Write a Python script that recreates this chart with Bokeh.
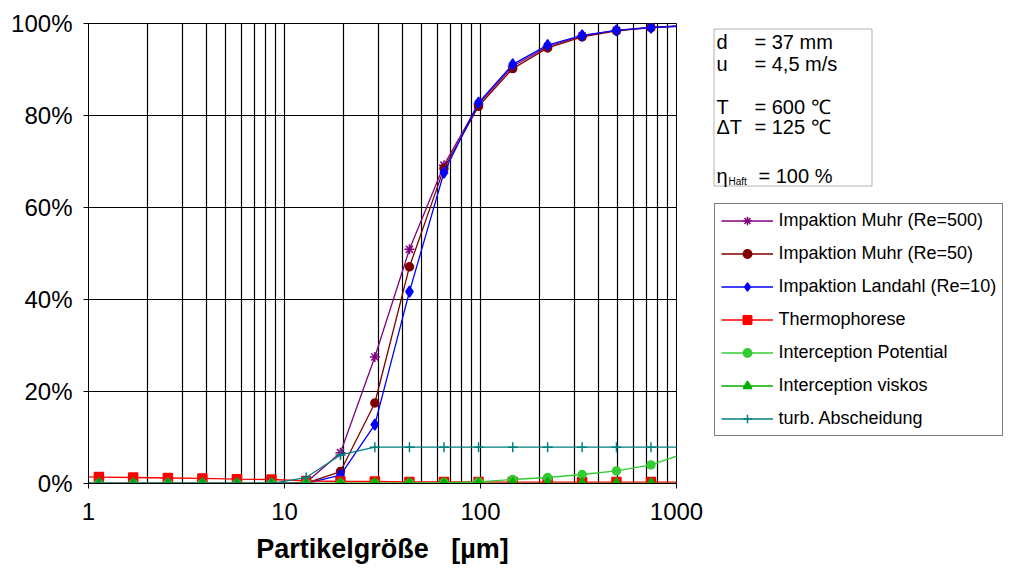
from bokeh.plotting import figure
from bokeh.layouts import row
from bokeh.models import Range1d, FixedTicker, Legend, LegendItem, Label, BoxAnnotation
from bokeh.embed import file_html
from bokeh.resources import INLINE

# ---------------- data ----------------
size_um = [0.753, 1.13, 1.69, 2.54, 3.81, 5.72, 8.58, 12.9, 19.3, 28.9,
           43.4, 65.1, 97.7, 146, 220, 330, 494, 741, 1112]
muhr_500 = [0, 0, 0, 0, 0, 0, 0, 0.2, 6.7, 27.5, 50.9, 69.2, 82.5, 90.7, 95.0, 97.3, 98.5, 99.2, 99.5]
muhr_50 = [0, 0, 0, 0, 0, 0, 0, 0.1, 2.6, 17.5, 47.1, 68.5, 82.0, 90.2, 94.7, 97.1, 98.4, 99.1, 99.5]
landahl_10 = [0, 0, 0, 0, 0, 0, 0, 0, 1.8, 12.8, 41.7, 67.6, 82.8, 91.1, 95.3, 97.4, 98.5, 99.1, 99.5]
thermophorese = [1.5, 1.4, 1.3, 1.2, 1.1, 0.93, 0.87, 0.57, 0.43, 0.43, 0.35, 0.35, 0.35, 0.3, 0.3, 0.3, 0.3, 0.3, 0.3]
interc_potential = [0, 0, 0, 0, 0, 0, 0, 0, 0, 0.05, 0.1, 0.2, 0.35, 0.87, 1.3, 1.96, 2.74, 4.04, 6.6]
interc_viskos = [0, 0, 0, 0, 0, 0, 0, 0, 0, 0, 0, 0, 0, 0, 0, 0, 0, 0, 0]
turb_abscheidung = [0, 0, 0, 0, 0, 0, 0.05, 1.3, 6.2, 7.9, 7.9, 7.9, 7.9, 7.9, 7.9, 7.9, 7.9, 7.9, 7.9]

series_names = ["Impaktion Muhr (Re=500)", "Impaktion Muhr (Re=50)", "Impaktion Landahl (Re=10)",
                "Thermophorese", "Interception Potential", "Interception viskos", "turb. Abscheidung"]
x_major = [1, 10, 100, 1000]
x_tick_labels = ["1", "10", "100", "1000"]
x_minor = [2, 3, 4, 5, 6, 7, 8, 9, 20, 30, 40, 50, 60, 70, 80, 90,
           200, 300, 400, 500, 600, 700, 800, 900]
y_major = [0, 20, 40, 60, 80, 100]
y_tick_labels = ["0%", "20%", "40%", "60%", "80%", "100%"]

info_left = ["d", "u", "T", "\u0394T", "\u03b7"]
info_right = ["= 37 mm", "= 4,5 m/s", "= 600  \u2103", "= 125  \u2103", "= 100 %"]
info_sub = "Haft"

FONT = "Liberation Sans"
H = 570
FRAME_BOTTOM = 483  # page y of the frame bottom (shared by both plots in the row)

p = figure(width=710, height=H, x_axis_type="log",
           x_range=Range1d(1, 1000), y_range=Range1d(0, 100),
           output_backend="svg", toolbar_location=None,
           min_border_left=88, min_border_right=34, min_border_top=23, min_border_bottom=H - FRAME_BOTTOM,
           background_fill_color="white", border_fill_color="white")
p.outline_line_color = "black"
p.outline_line_width = 1

# axes
p.xaxis.ticker = FixedTicker(ticks=x_major, minor_ticks=x_minor)
p.xaxis.major_label_overrides = {v: t for v, t in zip(x_major, x_tick_labels)}
p.yaxis.ticker = FixedTicker(ticks=y_major)
p.yaxis.major_label_overrides = {v: t for v, t in zip(y_major, y_tick_labels)}
for ax in (p.xaxis[0], p.yaxis[0]):
    ax.axis_line_color = "black"
    ax.major_tick_line_color = "black"
    ax.major_tick_out = 5
    ax.major_tick_in = 0
    ax.minor_tick_line_color = None
    ax.major_label_text_font = FONT
    ax.major_label_text_font_size = "24px"
    ax.major_label_text_color = "black"
p.xaxis.major_label_standoff = 14
p.yaxis.major_label_standoff = 11
p.xaxis.axis_label = "Partikelgr\u00f6\u00dfe\u00a0\u00a0\u00a0[\u00b5m]"
p.xaxis.axis_label_text_font = FONT
p.xaxis.axis_label_text_font_size = "27px"
p.xaxis.axis_label_text_font_style = "bold"
p.xaxis.axis_label_text_color = "black"
p.xaxis.axis_label_standoff = 11

# grids
p.xgrid.grid_line_color = "black"
p.xgrid.grid_line_width = 1.2
p.xgrid.minor_grid_line_color = "black"
p.xgrid.minor_grid_line_width = 1.2
p.ygrid.grid_line_color = "black"
p.ygrid.grid_line_width = 1.2

styles = [
    ("#800080", "asterisk", 10),
    ("#800000", "circle", 8),
    ("#0000FF", "diamond", 11),
    ("#FF0000", "square", 9),
    ("#33CC33", "circle", 8),
    ("#00B000", "triangle", 10),
    ("#008080", "cross", 10),
]
data_series = [muhr_500, muhr_50, landahl_10, thermophorese, interc_potential, interc_viskos, turb_abscheidung]

for ys, (col, mk, sz) in zip(data_series, styles):
    p.line(size_um, ys, line_color=col, line_width=1.3)
    p.scatter(size_um, ys, marker=mk, size=sz, fill_color=col, line_color=col, line_width=1.5)

# ---------------- side panel with legend and info box ----------------
# its ranges lie outside all data, so its renderers only serve the legend glyphs
W2 = 1014 - 710
p2 = figure(width=W2, height=H, x_range=Range1d(5000, 6000), y_range=Range1d(500, 600),
            output_backend="svg", toolbar_location=None,
            min_border_left=0, min_border_right=0, min_border_top=23, min_border_bottom=H - FRAME_BOTTOM,
            background_fill_color="white", border_fill_color="white")
p2.axis.visible = False
p2.grid.visible = False
p2.outline_line_color = None

items = []
for name, ys, (col, mk, sz) in zip(series_names, data_series, styles):
    ln = p2.line(size_um, ys, line_color=col, line_width=1.3)
    sc = p2.scatter(size_um, ys, marker=mk, size=sz, fill_color=col, line_color=col, line_width=1.5)
    items.append(LegendItem(label=name, renderers=[ln, sc]))

LEG_H = 231
legend = Legend(items=items, location=(3.5, FRAME_BOTTOM - (205 + LEG_H) + 0.5))
legend.label_text_font = FONT
legend.label_text_font_size = "18px"
legend.label_text_color = "black"
legend.glyph_width = 52
legend.glyph_height = 21
legend.label_height = 21
legend.label_standoff = 6
legend.spacing = 12
legend.padding = 6
legend.margin = 0
legend.border_line_color = "black"
legend.border_line_width = 1
legend.background_fill_color = "white"
legend.background_fill_alpha = 1
p2.add_layout(legend, "center")

box = BoxAnnotation(left=3.5, right=161.5, top=FRAME_BOTTOM - 28.5, bottom=FRAME_BOTTOM - 185.5,
                    left_units="screen", right_units="screen",
                    top_units="screen", bottom_units="screen",
                    fill_color="white", fill_alpha=1, line_color="black", line_width=1)
p2.add_layout(box)

ys_info = [FRAME_BOTTOM - 41, FRAME_BOTTOM - 63, FRAME_BOTTOM - 106, FRAME_BOTTOM - 126, FRAME_BOTTOM - 175]
for lt, rt, yy in zip(info_left, info_right, ys_info):
    p2.add_layout(Label(x=6, y=yy, x_units="screen", y_units="screen", text=lt,
                        text_font=FONT, text_font_size="20px", text_baseline="middle",
                        text_color="black"))
    p2.add_layout(Label(x=48 if lt == "\u03b7" else 44, y=yy, x_units="screen", y_units="screen", text=rt,
                        text_font=FONT, text_font_size="20px", text_baseline="middle",
                        text_color="black"))
p2.add_layout(Label(x=18, y=FRAME_BOTTOM - 181, x_units="screen", y_units="screen", text=info_sub,
                    text_font=FONT, text_font_size="10px", text_baseline="middle",
                    text_color="black"))

layout = row(p, p2, spacing=0)
open("out.html", "w").write(file_html(layout, INLINE))
